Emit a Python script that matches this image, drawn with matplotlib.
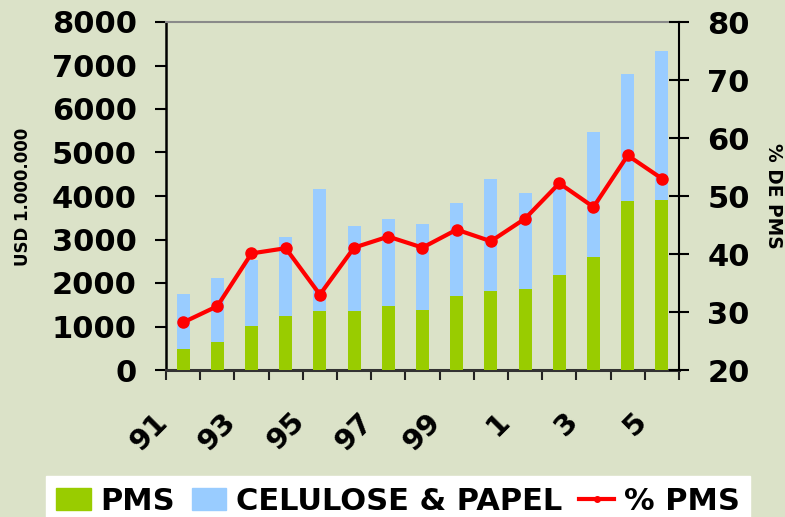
import numpy as np
import matplotlib
matplotlib.use('Agg')
import matplotlib.pyplot as plt
from matplotlib.transforms import ScaledTranslation
from matplotlib.patches import Patch
from matplotlib.lines import Line2D

# anos 1991..2005
anos = ['91', '92', '93', '94', '95', '96', '97', '98', '99', '0', '1', '2', '3', '4', '5']
rotulos = ['91', '', '93', '', '95', '', '97', '', '99', '', '1', '', '3', '', '5']

# USD 1.000.000
pms = [480, 650, 1020, 1250, 1360, 1360, 1480, 1380, 1690, 1820, 1860, 2180, 2600, 3880, 3900]
celulose_papel = [1750, 2110, 2530, 3060, 4160, 3310, 3470, 3350, 3840, 4390, 4070, 4270, 5470, 6800, 7330]
pct_pms = [28.2, 31.0, 40.1, 41.0, 33.0, 41.1, 43.0, 41.1, 44.2, 42.2, 46.1, 52.2, 48.1, 57.0, 53.0]

bg = '#dbe2c8'
verde = '#99cc00'
azul = '#99ccff'

plt.rcParams['font.family'] = 'DejaVu Sans'
plt.rcParams['font.weight'] = 'bold'

fig = plt.figure(figsize=(7.85, 5.17), dpi=100, facecolor=bg)
ax = fig.add_axes([166 / 785, 1 - 370 / 517, 513 / 785, 348 / 517])
ax.set_facecolor(bg)

x = np.arange(len(anos))
w = 0.38
ax.bar(x, celulose_papel, w, color=azul, zorder=2)
ax.bar(x, pms, w, color=verde, zorder=3)

ax.set_xlim(-0.5, len(anos) - 0.5)
ax.set_ylim(0, 8000)
ax.set_yticks(range(0, 8001, 1000))
ax.tick_params(axis='y', direction='out', length=8, width=1.5, labelsize=22, pad=13)
for lb in ax.get_yticklabels():
    lb.set_fontweight('bold')

ax.set_xticks(x)
ax.set_xticklabels(rotulos, rotation=45, ha='right', va='center',
                   rotation_mode='anchor', fontsize=21, fontweight='bold')
ax.tick_params(axis='x', which='major', length=0, pad=34)
ax.set_xticks(np.arange(-0.5, len(anos), 1), minor=True)
ax.tick_params(axis='x', which='minor', direction='out', length=7.5, width=1.5, color='#222222')
desloc = ScaledTranslation(-20 / 100, 0, fig.dpi_scale_trans)
for lb in ax.get_xticklabels():
    lb.set_transform(lb.get_transform() + desloc)

ax.spines['left'].set_linewidth(1.8)
ax.spines['left'].set_color('black')
ax.spines['bottom'].set_linewidth(2.2)
ax.spines['bottom'].set_color('#333333')
ax.spines['top'].set_color('#8a8a8a')
ax.spines['top'].set_linewidth(1.5)
ax.spines['right'].set_visible(False)

ax2 = ax.twinx()
ax2.plot(x, pct_pms, color='#ff0000', lw=3, marker='o', ms=8, zorder=5)
ax2.set_ylim(20, 80)
ax2.set_yticks(range(20, 81, 10))
ax2.tick_params(axis='y', direction='inout', length=15, width=1.5, labelsize=22, pad=13)
for lb in ax2.get_yticklabels():
    lb.set_fontweight('bold')
for s in ['left', 'top', 'bottom']:
    ax2.spines[s].set_visible(False)
ax2.spines['right'].set_linewidth(1.5)
ax2.spines['right'].set_color('black')

fig.text(23 / 785, 1 - 197 / 517, 'USD 1.000.000', rotation=90, fontsize=12,
         fontweight='bold', ha='center', va='center')
fig.text(774 / 785, 1 - 196 / 517, '% DE PMS', rotation=270, fontsize=13.4,
         fontweight='bold', ha='center', va='center')

handles = [Patch(color=verde), Patch(color=azul),
           Line2D([], [], color='#ff0000', lw=3, marker='o', ms=4)]
leg = fig.legend(handles, ['PMS', 'CELULOSE & PAPEL', '% PMS'], ncol=3,
                 loc='upper center', bbox_to_anchor=(398 / 785, 1 - 476 / 517),
                 frameon=True, fancybox=False, framealpha=1, edgecolor='white',
                 prop={'weight': 'bold', 'size': 22}, handlelength=1.12,
                 handleheight=0.7, handletextpad=0.33, columnspacing=0.55,
                 borderpad=0.35, borderaxespad=0)
leg.get_frame().set_facecolor('white')

fig.savefig('out.png', dpi=100, facecolor=bg)
